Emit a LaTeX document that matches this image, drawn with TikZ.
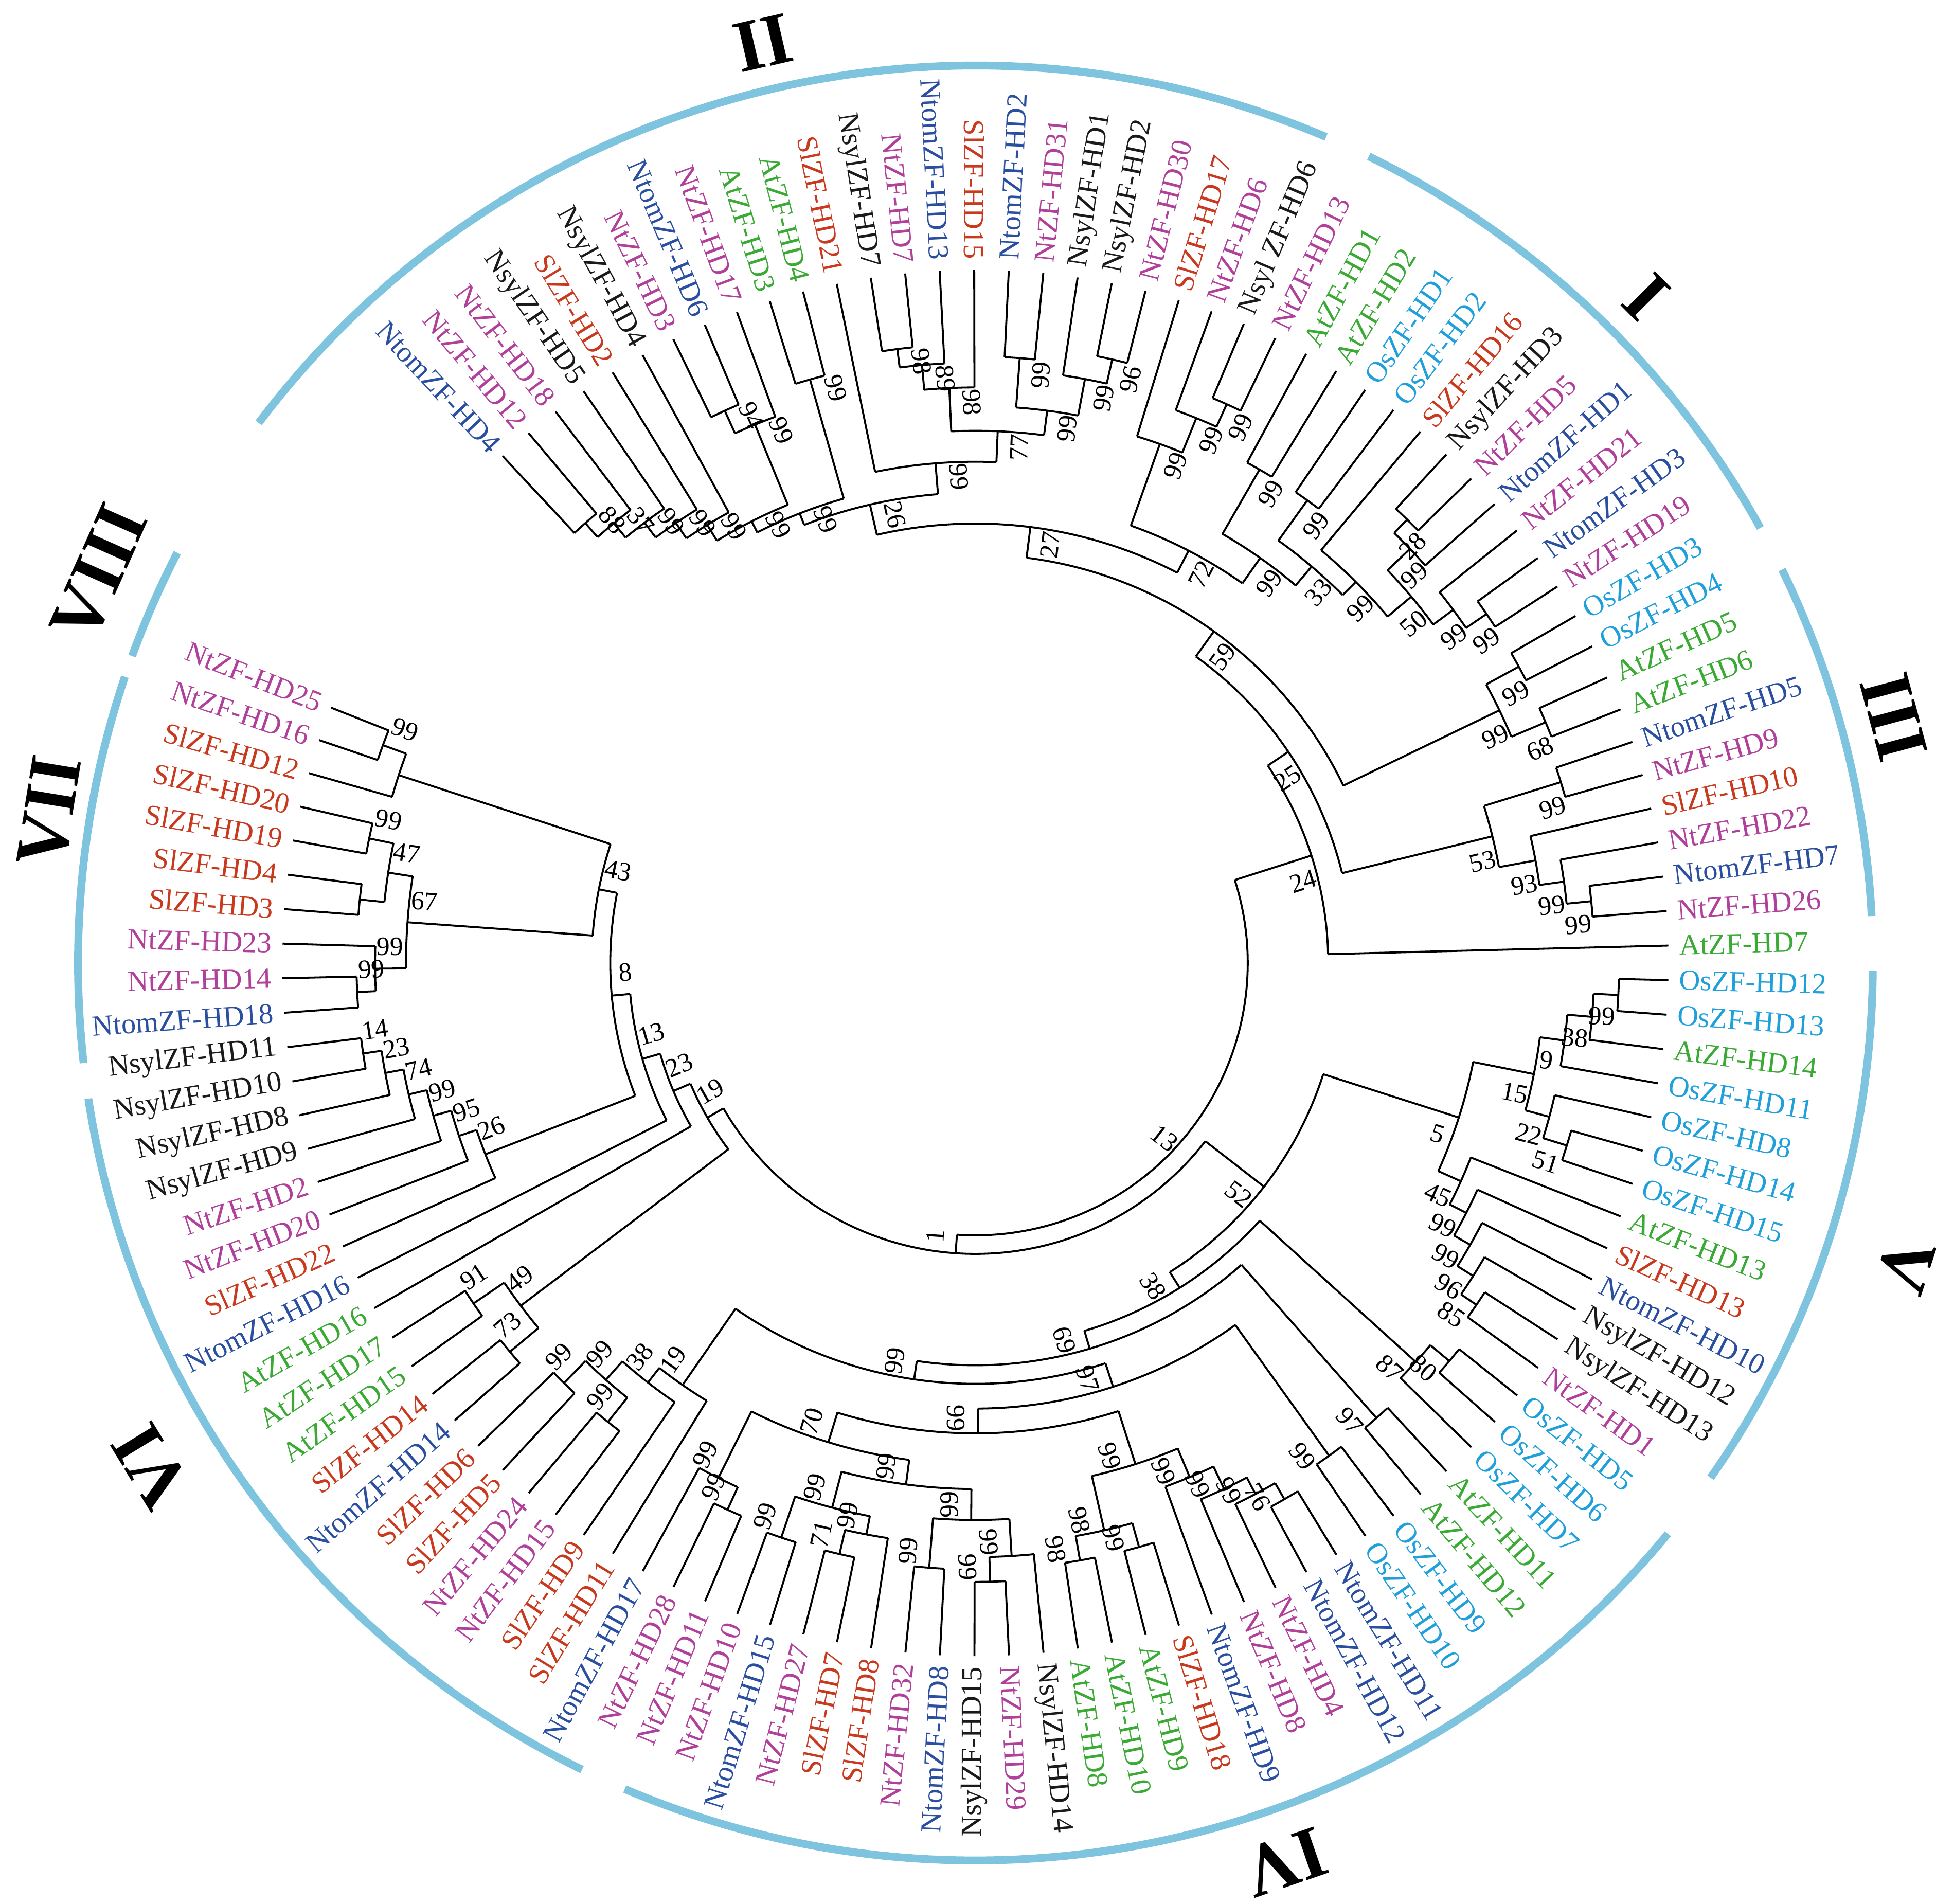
\documentclass[tikz,border=0pt]{standalone}
\usepackage{fontspec}
\setmainfont{Liberation Serif}
\definecolor{cb}{HTML}{2A4FA0}
\definecolor{cp}{HTML}{B0409A}
\definecolor{cr}{HTML}{C8391E}
\definecolor{cg}{HTML}{3AAA35}
\definecolor{cc}{HTML}{1FA0DA}
\definecolor{ck}{HTML}{1A1A1A}
\definecolor{arcblue}{HTML}{7EC4DF}
\newcommand\lf[3]{%
 \pgfmathsetmacro\ang{133-(#1-1)*2.86}%
 \expandafter\xdef\csname a@L#1\endcsname{\ang}%
 \expandafter\xdef\csname r@L#1\endcsname{5.6}%
 \pgfmathtruncatemacro\rt{cos(\ang)>=0}%
 \ifnum\rt=1
   \node[lab,text=#3,anchor=west,rotate=\ang] (L#1) at (\ang:5.66) {#2};%
 \else
   \pgfmathsetmacro\angb{\ang+180}%
   \node[lab,text=#3,anchor=east,rotate=\angb] (L#1) at (\ang:5.66) {#2};%
 \fi}
\newcommand\nd[4]{%
 \xdef\mn{1000}\xdef\mx{-1000}%
 \foreach \c in {#3}{%
   \edef\ca{\csname a@\c\endcsname}\edef\cra{\csname r@\c\endcsname}%
   \draw[tr] (\ca:#2) -- (\ca:\cra);
   \pgfmathsetmacro\tmn{min(\mn,\ca)}\xdef\mn{\tmn}%
   \pgfmathsetmacro\tmx{max(\mx,\ca)}\xdef\mx{\tmx}%
 }%
 \draw[tr] (\mn:#2) arc[start angle=\mn,end angle=\mx,radius=#2];
 \pgfmathsetmacro\md{(\mn+\mx)/2}%
 \expandafter\xdef\csname a@#1\endcsname{\md}%
 \expandafter\xdef\csname r@#1\endcsname{#2}%
 \pgfmathsetmacro\ba{\md-10.5/#2}%
 \pgfmathtruncatemacro\rt{cos(\md)>=0}%
 \ifnum\rt=1 \pgfmathsetmacro\rr{\md}\else\pgfmathsetmacro\rr{\md+180}\fi
 \node[bs,rotate=\rr] (#1) at (\ba:#2-0.12) {#4};}
\begin{document}
\begin{tikzpicture}[x=1cm,y=1cm,
 tr/.style={line width=0.45pt,black},
 lab/.style={inner sep=0.6pt,font=\fontsize{6.7}{7.5}\selectfont},
 bs/.style={inner sep=0.4pt,font=\fontsize{6.1}{7}\selectfont},
 grp/.style={line width=1.8pt,draw=arcblue},
 num/.style={font=\fontsize{17}{17}\selectfont\bfseries}]
\useasboundingbox (-7.88,-7.60) rectangle (7.76,7.78);
% leaves
\lf{1}{NtomZF-HD4}{cb}\lf{2}{NtZF-HD12}{cp}\lf{3}{NtZF-HD18}{cp}\lf{4}{NsylZF-HD5}{ck}
\lf{5}{SlZF-HD2}{cr}\lf{6}{NsylZF-HD4}{ck}\lf{7}{NtZF-HD3}{cp}\lf{8}{NtomZF-HD6}{cb}
\lf{9}{NtZF-HD17}{cp}\lf{10}{AtZF-HD3}{cg}\lf{11}{AtZF-HD4}{cg}\lf{12}{SlZF-HD21}{cr}
\lf{13}{NsylZF-HD7}{ck}\lf{14}{NtZF-HD7}{cp}\lf{15}{NtomZF-HD13}{cb}\lf{16}{SlZF-HD15}{cr}
\lf{17}{NtomZF-HD2}{cb}\lf{18}{NtZF-HD31}{cp}\lf{19}{NsylZF-HD1}{ck}\lf{20}{NsylZF-HD2}{ck}
\lf{21}{NtZF-HD30}{cp}\lf{22}{SlZF-HD17}{cr}\lf{23}{NtZF-HD6}{cp}\lf{24}{Nsyl ZF-HD6}{ck}
\lf{25}{NtZF-HD13}{cp}\lf{26}{AtZF-HD1}{cg}\lf{27}{AtZF-HD2}{cg}\lf{28}{OsZF-HD1}{cc}
\lf{29}{OsZF-HD2}{cc}\lf{30}{SlZF-HD16}{cr}\lf{31}{NsylZF-HD3}{ck}\lf{32}{NtZF-HD5}{cp}
\lf{33}{NtomZF-HD1}{cb}\lf{34}{NtZF-HD21}{cp}\lf{35}{NtomZF-HD3}{cb}\lf{36}{NtZF-HD19}{cp}
\lf{37}{OsZF-HD3}{cc}\lf{38}{OsZF-HD4}{cc}\lf{39}{AtZF-HD5}{cg}\lf{40}{AtZF-HD6}{cg}
\lf{41}{NtomZF-HD5}{cb}\lf{42}{NtZF-HD9}{cp}\lf{43}{SlZF-HD10}{cr}\lf{44}{NtZF-HD22}{cp}
\lf{45}{NtomZF-HD7}{cb}\lf{46}{NtZF-HD26}{cp}\lf{47}{AtZF-HD7}{cg}\lf{48}{OsZF-HD12}{cc}
\lf{49}{OsZF-HD13}{cc}\lf{50}{AtZF-HD14}{cg}\lf{51}{OsZF-HD11}{cc}\lf{52}{OsZF-HD8}{cc}
\lf{53}{OsZF-HD14}{cc}\lf{54}{OsZF-HD15}{cc}\lf{55}{AtZF-HD13}{cg}\lf{56}{SlZF-HD13}{cr}
\lf{57}{NtomZF-HD10}{cb}\lf{58}{NsylZF-HD12}{ck}\lf{59}{NsylZF-HD13}{ck}\lf{60}{NtZF-HD1}{cp}
\lf{61}{OsZF-HD5}{cc}\lf{62}{OsZF-HD6}{cc}\lf{63}{OsZF-HD7}{cc}\lf{64}{AtZF-HD11}{cg}
\lf{65}{AtZF-HD12}{cg}\lf{66}{OsZF-HD9}{cc}\lf{67}{OsZF-HD10}{cc}\lf{68}{NtomZF-HD11}{cb}
\lf{69}{NtomZF-HD12}{cb}\lf{70}{NtZF-HD4}{cp}\lf{71}{NtZF-HD8}{cp}\lf{72}{NtomZF-HD9}{cb}
\lf{73}{SlZF-HD18}{cr}\lf{74}{AtZF-HD9}{cg}\lf{75}{AtZF-HD10}{cg}\lf{76}{AtZF-HD8}{cg}
\lf{77}{NsylZF-HD14}{ck}\lf{78}{NtZF-HD29}{cp}\lf{79}{NsylZF-HD15}{ck}\lf{80}{NtomZF-HD8}{cb}
\lf{81}{NtZF-HD32}{cp}\lf{82}{SlZF-HD8}{cr}\lf{83}{SlZF-HD7}{cr}\lf{84}{NtZF-HD27}{cp}
\lf{85}{NtomZF-HD15}{cb}\lf{86}{NtZF-HD10}{cp}\lf{87}{NtZF-HD11}{cp}\lf{88}{NtZF-HD28}{cp}
\lf{89}{NtomZF-HD17}{cb}\lf{90}{SlZF-HD11}{cr}\lf{91}{SlZF-HD9}{cr}\lf{92}{NtZF-HD15}{cp}
\lf{93}{NtZF-HD24}{cp}\lf{94}{SlZF-HD5}{cr}\lf{95}{SlZF-HD6}{cr}\lf{96}{NtomZF-HD14}{cb}
\lf{97}{SlZF-HD14}{cr}\lf{98}{AtZF-HD15}{cg}\lf{99}{AtZF-HD17}{cg}\lf{100}{AtZF-HD16}{cg}
\lf{101}{NtomZF-HD16}{cb}\lf{102}{SlZF-HD22}{cr}\lf{103}{NtZF-HD20}{cp}\lf{104}{NtZF-HD2}{cp}
\lf{105}{NsylZF-HD9}{ck}\lf{106}{NsylZF-HD8}{ck}\lf{107}{NsylZF-HD10}{ck}\lf{108}{NsylZF-HD11}{ck}
\lf{109}{NtomZF-HD18}{cb}\lf{110}{NtZF-HD14}{cp}\lf{111}{NtZF-HD23}{cp}\lf{112}{SlZF-HD3}{cr}
\lf{113}{SlZF-HD4}{cr}\lf{114}{SlZF-HD19}{cr}\lf{115}{SlZF-HD20}{cr}\lf{116}{SlZF-HD12}{cr}
\lf{117}{NtZF-HD16}{cp}\lf{118}{NtZF-HD25}{cp}
% tree
\nd{a1}{4.75}{L1,L2}{88}\nd{a2}{4.6}{a1,L3}{37}\nd{a3}{4.45}{a2,L4}{99}\nd{a4}{4.3}{a3,L5}{99}
\nd{a5}{4.15}{a4,L6}{99}\nd{b1}{4.9}{L7,L8}{94}\nd{c1}{4.7}{b1,L9}{99}\nd{d1}{4.9}{L10,L11}{99}
\nd{a6}{4.0}{a5,c1}{99}\nd{a7}{3.9}{a6,d1}{99}
\nd{e1}{5.0}{L13,L14}{98}\nd{e2}{4.85}{e1,L15}{89}\nd{e3}{4.65}{e2,L16}{98}\nd{f1}{4.9}{L17,L18}{99}
\nd{g1}{5.0}{L20,L21}{96}\nd{g2}{4.8}{L19,g1}{99}\nd{f2}{4.5}{f1,g2}{99}\nd{h1}{4.3}{e3,f2}{77}
\nd{h2}{4.05}{L12,h1}{99}\nd{t26}{3.8}{a7,h2}{26}
\nd{i1}{4.95}{L24,L25}{99}\nd{i2}{4.75}{L23,i1}{99}\nd{i3}{4.45}{L22,i2}{99}
\nd{j1}{4.6}{L26,L27}{99}\nd{k1}{4.6}{L28,L29}{99}\nd{m1}{5.0}{L31,L32}{28}\nd{m2}{4.85}{m1,L33}{99}
\nd{n1}{5.0}{L35,L36}{99}\nd{n2}{4.8}{L34,n1}{99}\nd{m3}{4.6}{m2,n2}{50}\nd{m4}{4.35}{L30,m3}{99}
\nd{k2}{4.2}{k1,m4}{33}\nd{k3}{4.0}{j1,k2}{99}\nd{p72}{3.75}{i3,k3}{72}\nd{t27}{3.55}{t26,p72}{27}
\nd{o1}{5.0}{L37,L38}{99}\nd{o2}{5.0}{L39,L40}{68}\nd{o3}{4.7}{o1,o2}{99}\nd{t59}{3.3}{t27,o3}{59}
\nd{u1}{4.95}{L41,L42}{99}\nd{v1}{5.0}{L45,L46}{99}\nd{v2}{4.8}{L44,v1}{99}\nd{v3}{4.6}{L43,v2}{93}
\nd{u3}{4.3}{u1,v3}{53}\nd{t25}{3.05}{t59,u3}{25}\nd{t24}{2.85}{t25,L47}{24}
\nd{w1}{5.2}{L48,L49}{99}\nd{w2}{5.0}{w1,L50}{38}\nd{w3}{4.8}{w2,L51}{9}\nd{x1}{5.0}{L53,L54}{51}
\nd{x2}{4.8}{L52,x1}{22}\nd{w4}{4.6}{w3,x2}{15}\nd{y1}{4.9}{L59,L60}{85}\nd{y2}{4.75}{L58,y1}{96}
\nd{y3}{4.6}{L57,y2}{99}\nd{y4}{4.45}{L56,y3}{99}\nd{y5}{4.3}{L55,y4}{45}\nd{t5}{4.1}{w4,y5}{5}
\nd{z1}{5.0}{L61,L62}{80}\nd{z2}{4.8}{z1,L63}{87}\nd{z3}{4.9}{L64,L65}{97}\nd{aa1}{4.9}{L66,L67}{99}
\nd{bb1}{5.0}{L68,L69}{76}\nd{bb2}{4.85}{bb1,L70}{99}\nd{bb3}{4.7}{bb2,L71}{99}\nd{bb4}{4.5}{bb3,L72}{99}
\nd{cc1}{4.9}{L73,L74}{99}\nd{cc2}{4.9}{L75,L76}{98}\nd{cc3}{4.7}{cc1,cc2}{98}\nd{cc4}{4.25}{bb4,cc3}{99}
\nd{dd1}{5.0}{L78,L79}{99}\nd{dd2}{4.8}{L77,dd1}{99}\nd{ee1}{4.9}{L80,L81}{99}\nd{ee2}{4.5}{dd2,ee1}{99}
\nd{ff1}{4.9}{L83,L84}{71}\nd{ff2}{4.7}{L82,ff1}{99}\nd{ff3}{4.9}{L85,L86}{99}\nd{ff4}{4.55}{ff2,ff3}{99}
\nd{ff5}{4.25}{ee2,ff4}{99}\nd{gg1}{4.85}{L87,L88}{99}\nd{gg2}{4.65}{gg1,L89}{99}\nd{hh}{4.05}{ff5,gg2}{70}
\nd{pp1}{3.8}{cc4,hh}{99}\nd{pp2}{3.6}{aa1,pp1}{97}
\nd{jj1}{4.75}{L94,L95}{99}\nd{jj2}{4.75}{L92,L93}{99}\nd{jj3}{4.5}{jj2,jj1}{99}\nd{jj4}{4.3}{L91,jj3}{38}
\nd{jj5}{4.15}{L90,jj4}{19}\nd{kk}{3.4}{pp2,jj5}{99}\nd{qq}{3.25}{z3,kk}{69}\nd{rr}{3.1}{z2,qq}{38}
\nd{ss}{2.95}{t5,rr}{52}
\nd{vv1}{4.9}{L96,L97}{73}\nd{vv2}{4.9}{L98,L99}{91}\nd{vv3}{4.6}{vv1,vv2}{49}
\nd{xx1}{5.0}{L107,L108}{14}\nd{xx2}{4.85}{L106,xx1}{23}\nd{xx3}{4.7}{L105,xx2}{74}\nd{xx4}{4.55}{L104,xx3}{99}
\nd{xx5}{4.4}{L103,xx4}{95}\nd{xx6}{4.25}{L102,xx5}{26}
\nd{yy1}{5.0}{L114,L115}{99}\nd{yy2}{5.0}{L112,L113}{}\nd{yy3}{4.8}{yy2,yy1}{47}\nd{yy4}{5.0}{L109,L110}{99}
\nd{yy5}{4.85}{yy4,L111}{99}\nd{yy6}{4.6}{yy5,yy3}{67}
\nd{zz1}{5.1}{L117,L118}{99}\nd{zz2}{4.9}{L116,zz1}{}
\nd{b43}{3.1}{yy6,zz2}{43}\nd{b8}{2.95}{xx6,b43}{8}\nd{b13}{2.8}{L101,b8}{13}\nd{b23}{2.65}{L100,b13}{23}
\nd{b19}{2.5}{vv3,b23}{19}\nd{bk1}{2.35}{ss,b19}{1}\nd{root}{2.2}{t24,bk1}{13}
% group arcs
\draw[grp] (143:7.25) arc[start angle=143,end angle=67,radius=7.25];
\draw[grp] (64:7.25) arc[start angle=64,end angle=29,radius=7.25];
\draw[grp] (26:7.25) arc[start angle=26,end angle=3,radius=7.25];
\draw[grp] (-0.5:7.25) arc[start angle=-0.5,end angle=-35,radius=7.25];
\draw[grp] (-39.5:7.25) arc[start angle=-39.5,end angle=-113,radius=7.25];
\draw[grp] (244:7.25) arc[start angle=244,end angle=188.7,radius=7.25];
\draw[grp] (186.4:7.25) arc[start angle=186.4,end angle=161.4,radius=7.25];
\draw[grp] (160:7.25) arc[start angle=160,end angle=152.8,radius=7.25];
% numerals
\node[num,rotate=13] (gII) at (103:7.63) {II};
\node[num,rotate=-45.2] (gI) at (44.8:7.64) {I};
\node[num,rotate=-75] (gIII) at (15:7.68) {III};
\node[num,rotate=-108] (gV) at (-18:7.9) {V};
\node[num,rotate=-161] (gIV) at (-71:7.68) {IV};
\node[num,rotate=121.4] (gVI) at (211.4:7.8) {VI};
\node[num,rotate=80.7] (gVII) at (170.7:7.58) {VII};
\node[num,rotate=66] (gVIII) at (156:7.75) {VIII};
\end{tikzpicture}
\end{document}
